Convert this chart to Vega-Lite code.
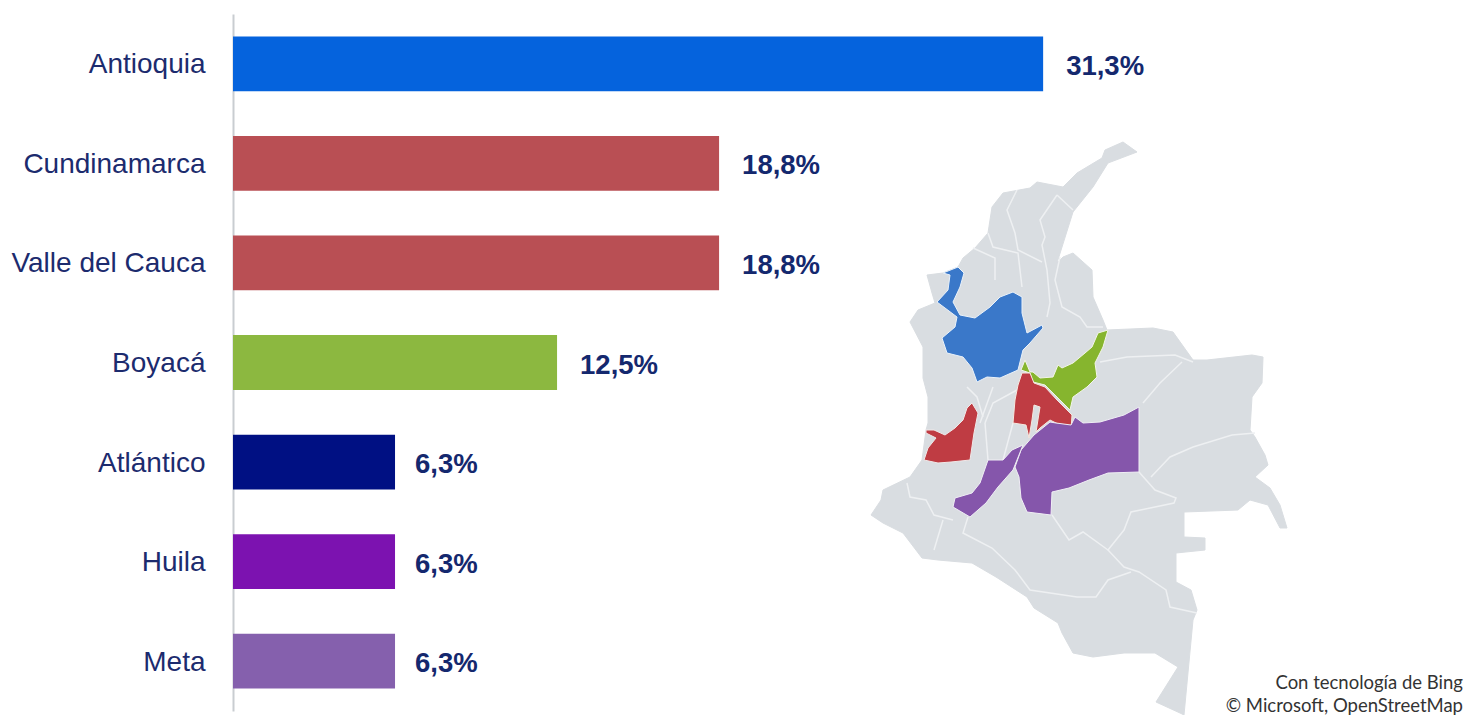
{
"$schema":"https://vega.github.io/schema/vega-lite/v6.json",
"width":1234,"height":715,"autosize":"none","padding":{"left":233,"top":0,"right":0,"bottom":0},
"background":"#ffffff",
"config":{"view":{"stroke":null}},
"datasets":{
"bars":[
{"dep":"Antioquia","pct":31.25,"label":"31,3%"},
{"dep":"Cundinamarca","pct":18.75,"label":"18,8%"},
{"dep":"Valle del Cauca","pct":18.75,"label":"18,8%"},
{"dep":"Boyacá","pct":12.5,"label":"12,5%"},
{"dep":"Atlántico","pct":6.25,"label":"6,3%"},
{"dep":"Huila","pct":6.25,"label":"6,3%"},
{"dep":"Meta","pct":6.25,"label":"6,3%"}],
"colombia":[{"e":267,"n":563},{"e":253,"n":573},{"e":235,"n":565},{"e":232,"n":557},{"e":207,"n":542},{"e":193,"n":528},{"e":167,"n":533},{"e":160,"n":527},{"e":133,"n":522},{"e":122,"n":508},{"e":118,"n":482},{"e":105,"n":467},{"e":93,"n":457},{"e":88,"n":448},{"e":73,"n":442},{"e":57,"n":440},{"e":62,"n":422},{"e":65,"n":412},{"e":48,"n":405},{"e":40,"n":393},{"e":53,"n":368},{"e":53,"n":352},{"e":53,"n":337},{"e":58,"n":318},{"e":58,"n":292},{"e":56,"n":285},{"e":52,"n":255},{"e":40,"n":238},{"e":13,"n":225},{"e":11,"n":215},{"e":1,"n":200},{"e":13,"n":192},{"e":33,"n":182},{"e":52,"n":157},{"e":68,"n":155},{"e":102,"n":152},{"e":126,"n":138},{"e":157,"n":118},{"e":164,"n":107},{"e":188,"n":92},{"e":192,"n":82},{"e":203,"n":62},{"e":223,"n":58},{"e":254,"n":62},{"e":285,"n":62},{"e":308,"n":48},{"e":286,"n":13},{"e":310,"n":2},{"e":314,"n":0},{"e":323,"n":95},{"e":327,"n":105},{"e":321,"n":125},{"e":306,"n":133},{"e":306,"n":162},{"e":335,"n":165},{"e":335,"n":177},{"e":314,"n":178},{"e":314,"n":203},{"e":368,"n":205},{"e":380,"n":215},{"e":398,"n":210},{"e":410,"n":187},{"e":417,"n":187},{"e":410,"n":210},{"e":400,"n":227},{"e":385,"n":238},{"e":398,"n":250},{"e":395,"n":260},{"e":385,"n":278},{"e":380,"n":285},{"e":382,"n":318},{"e":392,"n":332},{"e":393,"n":358},{"e":382,"n":360},{"e":337,"n":355},{"e":323,"n":355},{"e":303,"n":383},{"e":283,"n":387},{"e":237,"n":385},{"e":233,"n":395},{"e":223,"n":418},{"e":222,"n":445},{"e":203,"n":462},{"e":193,"n":458},{"e":187,"n":452},{"e":203,"n":503},{"e":223,"n":528},{"e":238,"n":552},{"e":267,"n":563}],
"antioquia":[{"e":143,"n":423},{"e":152,"n":418},{"e":152,"n":402},{"e":157,"n":382},{"e":172,"n":390},{"e":173,"n":387},{"e":160,"n":372},{"e":153,"n":365},{"e":148,"n":345},{"e":130,"n":337},{"e":117,"n":338},{"e":107,"n":333},{"e":102,"n":347},{"e":93,"n":358},{"e":77,"n":362},{"e":72,"n":377},{"e":85,"n":388},{"e":87,"n":398},{"e":67,"n":413},{"e":78,"n":425},{"e":80,"n":440},{"e":73,"n":442},{"e":88,"n":448},{"e":94,"n":442},{"e":90,"n":428},{"e":83,"n":413},{"e":90,"n":400},{"e":105,"n":397},{"e":120,"n":408},{"e":130,"n":418},{"e":143,"n":423}],
"boyaca":[{"e":238,"n":385},{"e":228,"n":382},{"e":222,"n":368},{"e":215,"n":362},{"e":203,"n":352},{"e":192,"n":347},{"e":188,"n":350},{"e":183,"n":338},{"e":170,"n":337},{"e":163,"n":343},{"e":160,"n":343},{"e":155,"n":355},{"e":151,"n":345},{"e":160,"n":342},{"e":163,"n":333},{"e":175,"n":330},{"e":187,"n":318},{"e":200,"n":305},{"e":203,"n":318},{"e":217,"n":328},{"e":227,"n":338},{"e":225,"n":352},{"e":233,"n":368},{"e":238,"n":385}],
"cundinamarca":[{"e":152,"n":342},{"e":160,"n":342},{"e":164,"n":332},{"e":175,"n":328},{"e":187,"n":315},{"e":202,"n":300},{"e":201,"n":285},{"e":186,"n":292},{"e":180,"n":295},{"e":170,"n":287},{"e":166,"n":283},{"e":170,"n":308},{"e":164,"n":310},{"e":162,"n":295},{"e":159,"n":277},{"e":156,"n":290},{"e":143,"n":292},{"e":145,"n":315},{"e":148,"n":330},{"e":152,"n":342}],
"valle":[{"e":102,"n":312},{"e":108,"n":302},{"e":104,"n":282},{"e":100,"n":255},{"e":81,"n":253},{"e":68,"n":252},{"e":54,"n":255},{"e":58,"n":267},{"e":66,"n":277},{"e":56,"n":282},{"e":56,"n":285},{"e":64,"n":285},{"e":75,"n":280},{"e":85,"n":287},{"e":93,"n":295},{"e":97,"n":307},{"e":102,"n":312}],
"meta":[{"e":269,"n":308},{"e":269,"n":243},{"e":238,"n":242},{"e":219,"n":235},{"e":199,"n":227},{"e":182,"n":223},{"e":181,"n":200},{"e":157,"n":203},{"e":151,"n":217},{"e":149,"n":238},{"e":145,"n":248},{"e":151,"n":265},{"e":164,"n":280},{"e":180,"n":293},{"e":186,"n":292},{"e":201,"n":290},{"e":205,"n":298},{"e":213,"n":292},{"e":230,"n":293},{"e":254,"n":300},{"e":269,"n":308}],
"huila":[{"e":153,"n":270},{"e":143,"n":245},{"e":128,"n":228},{"e":116,"n":212},{"e":100,"n":198},{"e":83,"n":208},{"e":85,"n":217},{"e":102,"n":222},{"e":110,"n":232},{"e":118,"n":255},{"e":133,"n":255},{"e":142,"n":265},{"e":153,"n":270}],
"borders":[
{"b":"a","e":147,"n":525},{"b":"a","e":137,"n":505},{"b":"a","e":145,"n":482},{"b":"a","e":148,"n":465},{"b":"a","e":172,"n":453},
{"b":"b","e":187,"n":520},{"b":"b","e":170,"n":495},{"b":"b","e":175,"n":478},{"b":"b","e":172,"n":470},{"b":"b","e":177,"n":445},{"b":"b","e":180,"n":412},{"b":"b","e":177,"n":398},
{"b":"c","e":187,"n":520},{"b":"c","e":203,"n":505},
{"b":"d","e":118,"n":482},{"b":"d","e":123,"n":468},{"b":"d","e":148,"n":462},{"b":"d","e":152,"n":428},
{"b":"e","e":190,"n":458},{"b":"e","e":185,"n":435},{"b":"e","e":192,"n":408},{"b":"e","e":210,"n":398},{"b":"e","e":217,"n":388},{"b":"e","e":233,"n":388},
{"b":"f","e":103,"n":467},{"b":"f","e":125,"n":457},{"b":"f","e":125,"n":435},
{"b":"g","e":230,"n":353},{"b":"g","e":257,"n":358},{"b":"g","e":305,"n":360},{"b":"g","e":323,"n":353},
{"b":"h","e":312,"n":353},{"b":"h","e":290,"n":332},{"b":"h","e":273,"n":312},
{"b":"i","e":97,"n":328},{"b":"i","e":107,"n":318},{"b":"i","e":113,"n":298},
{"b":"j","e":123,"n":328},{"b":"j","e":110,"n":292},
{"b":"k","e":147,"n":325},{"b":"k","e":123,"n":312},{"b":"k","e":115,"n":292},
{"b":"m","e":269,"n":243},{"b":"m","e":285,"n":225},{"b":"m","e":306,"n":217},{"b":"m","e":304,"n":212},{"b":"m","e":261,"n":203},{"b":"m","e":254,"n":185},{"b":"m","e":238,"n":165},{"b":"m","e":254,"n":148},{"b":"m","e":269,"n":143},{"b":"m","e":296,"n":125},{"b":"m","e":300,"n":108},{"b":"m","e":327,"n":102},
{"b":"n","e":182,"n":200},{"b":"n","e":199,"n":175},{"b":"n","e":213,"n":183},{"b":"n","e":238,"n":165},
{"b":"o","e":281,"n":238},{"b":"o","e":300,"n":258},{"b":"o","e":323,"n":268},{"b":"o","e":362,"n":280},{"b":"o","e":385,"n":282},
{"b":"p","e":98,"n":198},{"b":"p","e":93,"n":182},{"b":"p","e":122,"n":167},{"b":"p","e":145,"n":145},{"b":"p","e":160,"n":125},{"b":"p","e":207,"n":118},{"b":"p","e":226,"n":118},{"b":"p","e":238,"n":135},{"b":"p","e":261,"n":143},
{"b":"q","e":73,"n":195},{"b":"q","e":64,"n":165},
{"b":"r","e":37,"n":232},{"b":"r","e":40,"n":218},{"b":"r","e":56,"n":215},{"b":"r","e":64,"n":200},{"b":"r","e":83,"n":195},
{"b":"s","e":118,"n":255},{"b":"s","e":115,"n":292},
{"b":"t","e":133,"n":255},{"b":"t","e":143,"n":292}],
"credits":[{"t":"Con tecnología de Bing","e":593,"n":32},{"t":"© Microsoft, OpenStreetMap","e":593,"n":9}]
},
"layer":[
{"data":{"name":"bars"},
 "encoding":{
  "y":{"field":"dep","type":"nominal","sort":null,"title":null,
   "scale":{"range":[14,711],"paddingInner":0.45,"paddingOuter":0.225},
   "axis":{"domainColor":"#c9cdd1","domainWidth":2,"ticks":false,"grid":false,"labelFont":"Liberation Sans","labelFontSize":28,"labelColor":"#1c2b6e","labelPadding":28,"labelLimit":300,"labelOffset":1.5}},
  "x":{"field":"pct","type":"quantitative","title":null,"axis":null,"scale":{"domain":[0,47.6],"nice":false,"zero":true}}},
 "layer":[
  {"mark":{"type":"bar"},
   "encoding":{"color":{"field":"dep","type":"nominal","legend":null,
    "scale":{"domain":["Antioquia","Cundinamarca","Valle del Cauca","Boyacá","Atlántico","Huila","Meta"],"range":["#0563dd","#b94f54","#b94f54","#8cb840","#001083","#7c12b0","#8560ad"]}}}},
  {"transform":[{"filter":"datum.pct >= 10"}],
   "mark":{"type":"text","align":"left","baseline":"middle","dx":23,"dy":3,"font":"Liberation Sans","fontWeight":"bold","fontSize":27.5,"color":"#14286e"},
   "encoding":{"text":{"field":"label"}}},
  {"transform":[{"filter":"datum.pct < 10"}],
   "mark":{"type":"text","align":"left","baseline":"middle","dx":20,"dy":3,"font":"Liberation Sans","fontWeight":"bold","fontSize":27.5,"color":"#14286e"},
   "encoding":{"text":{"field":"label"}}}
 ]},
{"encoding":{
  "x":{"field":"e","type":"quantitative","axis":null,"title":null,"scale":{"domain":[0,417],"range":[637,1054],"nice":false,"zero":false}},
  "y":{"field":"n","type":"quantitative","axis":null,"title":null,"scale":{"domain":[0,573],"range":[715,142],"nice":false,"zero":false}}},
 "layer":[
  {"data":{"name":"colombia"},"mark":{"type":"line","order":false,"fill":"#d9dde1","stroke":"#d9dde1","strokeWidth":1}},
  {"data":{"name":"borders"},"mark":{"type":"line","order":false,"stroke":"#eef0f2","strokeWidth":1.5},"encoding":{"detail":{"field":"b"}}},
  {"data":{"name":"antioquia"},"mark":{"type":"line","order":false,"fill":"#3a78c9","stroke":"#eaf2fa","strokeWidth":1}},
  {"data":{"name":"boyaca"},"mark":{"type":"line","order":false,"fill":"#86b52e","stroke":"#f2f5e8","strokeWidth":1}},
  {"data":{"name":"cundinamarca"},"mark":{"type":"line","order":false,"fill":"#bf3c43","stroke":"#f5e8e0","strokeWidth":1}},
  {"data":{"name":"valle"},"mark":{"type":"line","order":false,"fill":"#bf3c43","stroke":"#f0e8e8","strokeWidth":1}},
  {"data":{"name":"meta"},"mark":{"type":"line","order":false,"fill":"#8556ab","stroke":"#f0eef5","strokeWidth":1}},
  {"data":{"name":"huila"},"mark":{"type":"line","order":false,"fill":"#8556ab","stroke":"#f0eef5","strokeWidth":1}},
  {"data":{"name":"credits"},"mark":{"type":"text","align":"right","baseline":"middle","font":"Lato","fontSize":18.5,"color":"#333333"},"encoding":{"text":{"field":"t"}}}
 ]}
],
"resolve":{"scale":{"x":"independent","y":"independent"},"axis":{"x":"independent","y":"independent"}}
}
